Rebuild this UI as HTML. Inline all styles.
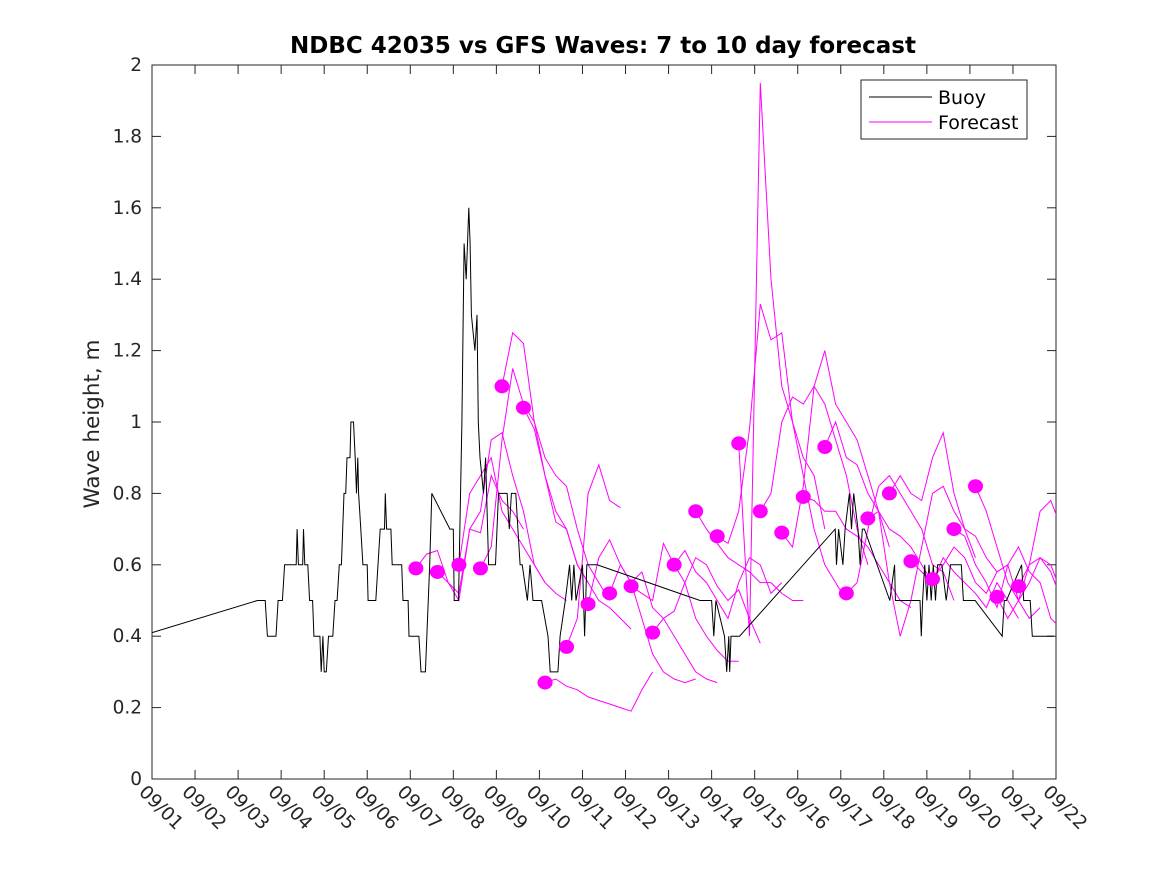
<!DOCTYPE html>
<html><head><meta charset="utf-8">
<style>
body{margin:0;background:#fff;}
svg text{font-family:"DejaVu Sans","Liberation Sans",sans-serif;fill:#262626;}
</style></head>
<body>
<svg id="chart" width="1167" height="875" viewBox="0 0 1167 875" xmlns="http://www.w3.org/2000/svg">
<rect width="1167" height="875" fill="#fff"/>
<text x="603" y="53" text-anchor="middle" font-size="23" font-weight="bold" style="fill:#000">NDBC 42035 vs GFS Waves: 7 to 10 day forecast</text>
<text transform="translate(99,424) rotate(-90)" text-anchor="middle" font-size="21.5">Wave height, m</text>
<defs><clipPath id="plotclip"><rect x="152" y="65" width="904" height="714"/></clipPath></defs>
<g id="axes"></g>
<g id="marks" clip-path="url(#plotclip)"></g>
<g id="legend">
<rect x="861" y="80" width="166" height="59" fill="#fff" stroke="#262626" stroke-width="1"/>
<line x1="869" y1="97" x2="932" y2="97" stroke="#000" stroke-width="1"/>
<text x="938" y="104" font-size="19" style="fill:#000">Buoy</text>
<line x1="869" y1="122" x2="932" y2="122" stroke="#f0f" stroke-width="1"/>
<text x="938" y="129" font-size="19" style="fill:#000">Forecast</text>
</g>
</svg>
<script>
const xTickLabels=["09/01","09/02","09/03","09/04","09/05","09/06","09/07","09/08","09/09","09/10","09/11","09/12","09/13","09/14","09/15","09/16","09/17","09/18","09/19","09/20","09/21","09/22"];
const yTickValues=[0,0.2,0.4,0.6,0.8,1,1.2,1.4,1.6,1.8,2];
const buoyDays=[0,2.45,2.63,2.68,2.88,2.93,3.03,3.08,3.35,3.37,3.4,3.5,3.52,3.55,3.62,3.66,3.73,3.76,3.9,3.93,3.97,4.0,4.05,4.1,4.2,4.25,4.3,4.35,4.4,4.43,4.46,4.5,4.53,4.6,4.62,4.68,4.72,4.75,4.78,4.8,4.85,4.9,5.0,5.02,5.2,5.25,5.3,5.4,5.42,5.45,5.55,5.58,5.8,5.83,5.95,5.97,6.2,6.25,6.35,6.45,6.5,6.92,7.0,7.02,7.12,7.2,7.25,7.3,7.36,7.39,7.42,7.5,7.55,7.58,7.62,7.7,7.75,7.82,7.98,8.05,8.25,8.3,8.35,8.45,8.5,8.55,8.6,8.72,8.78,8.85,9.05,9.2,9.25,9.43,9.48,9.6,9.7,9.75,9.8,9.85,10.0,10.05,10.1,10.34,12.73,13.0,13.05,13.1,13.3,13.35,13.4,13.42,13.45,13.65,15.87,15.9,15.95,16.05,16.1,16.2,16.25,16.3,16.4,16.45,16.5,16.55,17.14,17.25,17.27,17.3,17.84,17.87,17.9,17.95,18.0,18.05,18.1,18.15,18.2,18.25,18.35,18.45,18.55,18.6,18.8,18.85,19.12,19.75,19.8,19.85,20.2,20.25,20.4,20.45,20.95,21.0];
const buoyValues=[0.41,0.5,0.5,0.4,0.4,0.5,0.5,0.6,0.6,0.7,0.6,0.6,0.7,0.6,0.6,0.5,0.5,0.4,0.4,0.3,0.4,0.3,0.3,0.4,0.4,0.5,0.5,0.6,0.6,0.7,0.8,0.8,0.9,0.9,1.0,1.0,0.9,0.8,0.9,0.8,0.7,0.6,0.6,0.5,0.5,0.6,0.7,0.7,0.8,0.7,0.7,0.6,0.6,0.5,0.5,0.4,0.4,0.3,0.3,0.6,0.8,0.7,0.7,0.5,0.5,1.0,1.5,1.4,1.6,1.5,1.3,1.2,1.3,1.0,0.9,0.8,0.9,0.6,0.6,0.8,0.8,0.7,0.8,0.8,0.7,0.6,0.6,0.5,0.6,0.5,0.5,0.4,0.3,0.3,0.4,0.5,0.6,0.5,0.6,0.5,0.6,0.4,0.6,0.6,0.5,0.5,0.4,0.5,0.4,0.3,0.4,0.3,0.4,0.4,0.7,0.6,0.7,0.6,0.7,0.8,0.7,0.8,0.7,0.6,0.7,0.7,0.5,0.6,0.5,0.5,0.5,0.4,0.5,0.6,0.5,0.6,0.5,0.6,0.5,0.6,0.6,0.5,0.6,0.6,0.6,0.5,0.5,0.4,0.5,0.5,0.6,0.5,0.5,0.4,0.4];
const forecastStartDays=[6.13,6.63,7.13,7.63,8.13,8.63,9.13,9.63,10.13,10.63,11.13,11.63,12.13,12.63,13.13,13.63,14.13,14.63,15.13,15.63,16.13,16.63,17.13,17.63,18.13,18.63,19.13,19.63,20.13];
const forecastValues=[
[0.59,0.63,0.64,0.55,0.50,0.70,0.69,0.85,0.78,0.75,0.70],
[0.58,0.55,0.52,0.70,0.75,0.95,0.97,0.85,0.75,0.60,0.55],
[0.60,0.80,0.85,0.90,0.75,0.70,0.65,0.60,0.55,0.52,0.50],
[0.59,0.65,0.95,1.15,1.05,1.00,0.85,0.75,0.70,0.60,0.55],
[1.10,1.25,1.22,1.00,0.90,0.85,0.82,0.70,0.60,0.55,0.50],
[1.04,0.98,0.85,0.72,0.70,0.60,0.55,0.50,0.48,0.45,0.42],
[0.27,0.28,0.26,0.25,0.23,0.22,0.21,0.20,0.19,0.25,0.30],
[0.37,0.45,0.80,0.88,0.78,0.76],
[0.49,0.62,0.67,0.60,0.55,0.45,0.35,0.30,0.28,0.27,0.28],
[0.52,0.60,0.55,0.58,0.48,0.45,0.40,0.35,0.30,0.28,0.27],
[0.54,0.52,0.50,0.66,0.60,0.55,0.45,0.40,0.36,0.33,0.33],
[0.41,0.45,0.47,0.55,0.62,0.60,0.54,0.50,0.53,0.45,0.38],
[0.60,0.64,0.58,0.55,0.50,0.45,0.55,0.62,0.60,0.52,0.55],
[0.75,0.70,0.66,0.62,0.60,0.58,0.55,0.55,0.52,0.50,0.50],
[0.68,0.66,0.75,0.98,1.33,1.23,1.25,1.00,0.90,0.85,0.70],
[0.94,0.40,1.95,1.40,1.10,1.00,0.85,0.70,0.60,0.55,0.50],
[0.75,0.80,1.00,1.07,1.05,1.10,1.05,0.95,0.85,0.70,0.60],
[0.69,0.65,0.82,1.10,1.20,1.05,1.00,0.95,0.85,0.75,0.65],
[0.79,0.78,0.75,0.75,0.70,0.68,0.65,0.60,0.55,0.50,0.48],
[0.93,1.00,0.90,0.88,0.80,0.75,0.70,0.68,0.65,0.60,0.55],
[0.52,0.55,0.70,0.82,0.85,0.80,0.75,0.70,0.60,0.58,0.50],
[0.73,0.75,0.55,0.40,0.50,0.65,0.80,0.82,0.75,0.70,0.62],
[0.80,0.85,0.80,0.78,0.90,0.97,0.80,0.70,0.68,0.62,0.58],
[0.61,0.58,0.55,0.62,0.58,0.55,0.52,0.48,0.55,0.50,0.45],
[0.56,0.60,0.65,0.62,0.55,0.52,0.58,0.60,0.50,0.45,0.48],
[0.70,0.68,0.60,0.55,0.48,0.60,0.65,0.58,0.55,0.45,0.42],
[0.82,0.75,0.65,0.55,0.50,0.60,0.75,0.78,0.70,0.55,0.42],
[0.51,0.45,0.50,0.55,0.62,0.60,0.52,0.45,0.38,0.35,0.31],
[0.54,0.60,0.62,0.58,0.50,0.45,0.40,0.37]
];
const forecastStep=0.25;

const NS="http://www.w3.org/2000/svg";
const X0=152,X1=1056,Y0=779,Y1=65,DMAX=21,VMAX=2;
function xs(d){return X0+(X1-X0)*d/DMAX;}
function ys(v){return Y0-(Y0-Y1)*v/VMAX;}
function mk(tag,attrs,parent){const e=document.createElementNS(NS,tag);for(const k in attrs)e.setAttribute(k,attrs[k]);parent.appendChild(e);return e;}
const axes=document.getElementById('axes'),marks=document.getElementById('marks');

const box=mk('rect',{x:X0,y:Y1,width:X1-X0,height:Y0-Y1,fill:'none',stroke:'#262626','stroke-width':1},axes);


yTickValues.forEach(v=>{
  const y=ys(v);
  mk('line',{x1:X0,y1:y,x2:X0+9,y2:y,stroke:'#262626'},axes);
  mk('line',{x1:X1,y1:y,x2:X1-9,y2:y,stroke:'#262626'},axes);
  const t=mk('text',{x:X0-10,y:y+6,'text-anchor':'end','font-size':18.5},axes);
  
  
  t.textContent=String(v);
});
xTickLabels.forEach((lab,i)=>{
  const x=xs(i);
  mk('line',{x1:x,y1:Y0,x2:x,y2:Y0-9,stroke:'#262626'},axes);
  mk('line',{x1:x,y1:Y1,x2:x,y2:Y1+9,stroke:'#262626'},axes);
  const t=mk('text',{transform:`translate(${x-14},${Y0+14}) rotate(45)`,'font-size':18.5},axes);
  
  
  t.textContent=lab;
});

forecastStartDays.forEach((d0,i)=>{
  const vals=forecastValues[i];
  const pts=vals.map((v,j)=>xs(d0+j*forecastStep).toFixed(1)+','+ys(v).toFixed(1)).join(' ');
  const pl=mk('polyline',{points:pts,fill:'none',stroke:'#f0f','stroke-width':1},marks);
  
  
});
const bpts=buoyDays.map((d,i)=>xs(d).toFixed(1)+','+ys(buoyValues[i]).toFixed(1)).join(' ');
const bl=mk('polyline',{points:bpts,fill:'none',stroke:'#000','stroke-width':1},marks);


forecastStartDays.forEach((d0,i)=>{
  const c=mk('ellipse',{cx:xs(d0),cy:ys(forecastValues[i][0]),rx:7.5,ry:7,fill:'#f0f'},marks);
  
  
});
</script>
</body></html>
